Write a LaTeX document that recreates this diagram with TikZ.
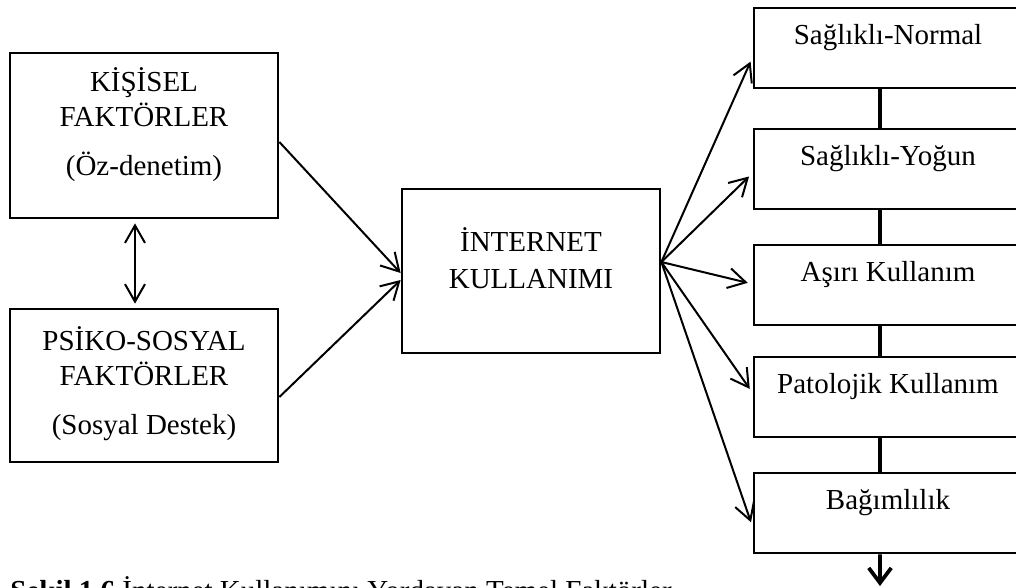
\documentclass[tikz,border=0pt]{standalone}
\usepackage{fontspec}
\setmainfont{Liberation Serif}
\usepackage{tikz}
\usetikzlibrary{arrows.meta}

\begin{document}
\begin{tikzpicture}[
      x=0.4pt,y=-0.4pt,
      every node/.style={font=\fontsize{11.6}{14}\selectfont},
      box/.style={draw,line width=1.1pt,minimum width=107.2pt,inner sep=0pt},
      stage/.style={box,minimum height=32pt},
      lbl/.style={align=center,inner sep=0pt},
      link/.style={line width=0.8pt,-{Straight Barb[length=7pt,width=8pt]}},
      dlink/.style={line width=0.8pt,{Straight Barb[length=7pt,width=8pt]}-{Straight Barb[length=7pt,width=8pt]}},
      chain/.style={line width=1.5pt}
    ]
    \useasboundingbox (0,0) rectangle (1016,588);
    % left column
    \node[box,minimum height=66pt,label={[lbl,yshift=4.2pt]center:{KİŞİSEL\\FAKTÖRLER\\[5.6pt](Öz-denetim)}}] (kisisel) at (144,135.5) {};
    \node[box,minimum height=61.2pt,label={[lbl,yshift=0.8pt]center:{PSİKO-SOSYAL\\FAKTÖRLER\\[5.6pt](Sosyal Destek)}}] (psiko) at (144,385.5) {};
    % middle
    \node[box,minimum width=103.2pt,minimum height=65.6pt,label={[lbl,yshift=5pt]center:{İNTERNET\\[0.8pt]KULLANIMI}}] (internet) at (531,271) {};
    % right column
    \node[stage,label={[lbl,yshift=4pt]center:Sağlıklı-Normal}] (normal) at (888,48) {};
    \node[stage,label={[lbl,yshift=4pt]center:Sağlıklı-Yoğun}] (yogun) at (888,169) {};
    \node[stage,label={[lbl,yshift=4pt]center:Aşırı Kullanım}] (asiri) at (888,285) {};
    \node[stage,label={[lbl,yshift=4pt]center:Patolojik Kullanım}] (patolojik) at (888,397) {};
    \node[stage,label={[lbl,yshift=4pt]center:Bağımlılık}] (bagimli) at (888,513) {};
    \node[anchor=base west,inner sep=0pt] (caption) at (10,600) {\textbf{Şekil 1.6} İnternet Kullanımını Yordayan Temel Faktörler};

    \draw[dlink,shorten <=1.6pt,shorten >=1.6pt] ([xshift=-3.6pt]kisisel.south) -- ([xshift=-3.6pt]psiko.north);
    \draw[link] ([yshift=-2.6pt]kisisel.east) -- ([yshift=-0.8pt]internet.west);
    \draw[link] ([yshift=-4.6pt]psiko.east) -- ([yshift=-3.6pt]internet.west);
    \draw[link,shorten >=2pt] ([yshift=3.6pt]internet.east) -- ([yshift=-3.6pt]normal.west);
    \draw[link,shorten >=2pt] ([yshift=3.6pt]internet.east) -- ([yshift=-1.6pt]yogun.west);
    \draw[link,shorten >=2pt] ([yshift=3.6pt]internet.east) -- ([yshift=0.4pt]asiri.west);
    \draw[link,shorten >=2pt] ([yshift=3.6pt]internet.east) -- ([yshift=1.6pt]patolojik.west);
    \draw[link,shorten >=2pt] ([yshift=3.6pt]internet.east) -- ([yshift=-5.6pt]bagimli.west);
    \draw[chain] ([xshift=-3.2pt]normal.south) -- ([xshift=-3.2pt]yogun.north);
    \draw[chain] ([xshift=-3.2pt]yogun.south) -- ([xshift=-3.2pt]asiri.north);
    \draw[chain] ([xshift=-3.2pt]asiri.south) -- ([xshift=-3.2pt]patolojik.north);
    \draw[chain] ([xshift=-3.2pt]patolojik.south) -- ([xshift=-3.2pt]bagimli.north);
    \coordinate (down) at (880,586);
    \draw[chain,-{Straight Barb[length=6pt,width=9pt]}] ([xshift=-3.2pt]bagimli.south) -- (down);
  \end{tikzpicture}
\end{document}
